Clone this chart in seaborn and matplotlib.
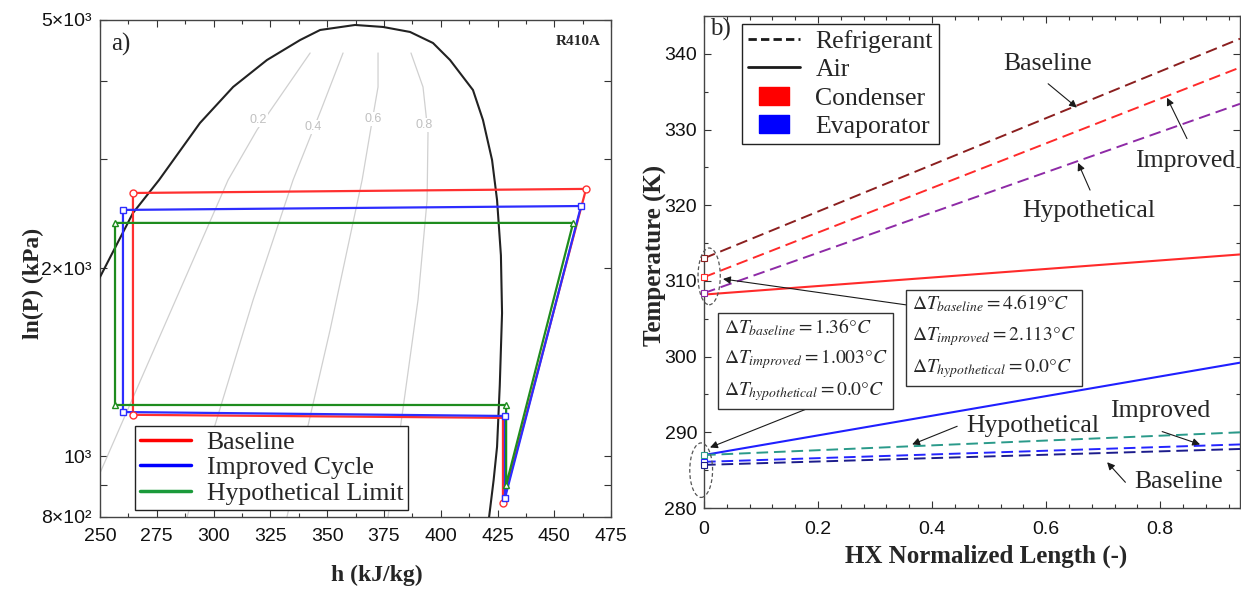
import numpy as np
import pandas as pd
import matplotlib
matplotlib.use("Agg")
import matplotlib.pyplot as plt
import seaborn as sns
from matplotlib.lines import Line2D
from matplotlib.patches import Ellipse
from matplotlib.ticker import FixedLocator, NullFormatter, MultipleLocator

# ---------------- data: panel a (P-h diagram) ----------------
h_dome = [240.0, 250.0, 264.5, 276.0, 294.0, 308.6, 323.5, 338.1, 346.9, 362.3, 374.6, 386.5,
          396.6, 404.1, 414.2, 418.6, 422.6, 424.8, 426.5, 427.0, 426.0, 424.8, 423.3, 421.3]
P_dome = [1650, 1938, 2454, 2772, 3420, 3906, 4314, 4644, 4819, 4909, 4873, 4784,
          4593, 4314, 3862, 3458, 2984, 2575, 2100, 1697, 1300, 1036, 917, 800]

quality_labels = ["0.2", "0.4", "0.6", "0.8"]
q_h = [[342.5, 319.1, 306.4, 285.3, 250.0, 241.5],
       [357.0, 347.3, 335.0, 317.4, 288.3],
       [372.4, 372.4, 368.9, 365.4, 351.3, 332.3],
       [386.9, 392.2, 394.4, 394.0, 390.0, 376.8]]
q_P = [[4427, 3333, 2772, 1850, 941, 800],
       [4427, 3588, 2772, 1781, 800],
       [4427, 3906, 3297, 2772, 1595, 800],
       [4427, 3906, 3297, 2575, 1781, 800]]
q_label_h = [319.6, 343.8, 370.2, 392.7]
q_label_P = [3459, 3370, 3471, 3395]

cycle_names = ["Baseline", "Improved Cycle", "Hypothetical Limit"]
baseline_h = [264.5, 264.5, 427.4, 427.4, 464.0, 264.5]
baseline_P = [2642, 1166, 1153, 843, 2682, 2642]
improved_h = [260.1, 260.1, 428.3, 428.3, 461.8, 260.1]
improved_P = [2482, 1178, 1161, 858, 2518, 2482]
hypo_h = [256.6, 256.6, 428.8, 428.8, 458.3, 256.6]
hypo_P = [2366, 1209, 1209, 900, 2366, 2366]

h_ticks = [250, 275, 300, 325, 350, 375, 400, 425, 450, 475]
P_ticks = [800, 1000, 2000, 5000]
P_tick_labels = ["8×10²", "10³", "2×10³", "5×10³"]
P_minor = [900, 3000, 4000]

# ---------------- data: panel b (temperature profiles) ----------------
hx_length = [0.0, 0.94]
cond_ref_baseline = [313.0, 342.0]
cond_ref_improved = [310.5, 338.2]
cond_ref_hypo = [308.4, 333.4]
cond_air = [308.2, 313.5]
evap_air = [287.0, 299.2]
evap_ref_hypo = [287.0, 290.0]
evap_ref_improved = [286.1, 288.4]
evap_ref_baseline = [285.7, 287.8]

box_cond = [r"$\Delta T_{baseline} = 4.619°C$",
            r"$\Delta T_{improved} = 2.113°C$",
            r"$\Delta T_{hypothetical} = 0.0°C$"]
box_evap = [r"$\Delta T_{baseline} = 1.36°C$",
            r"$\Delta T_{improved} = 1.003°C$",
            r"$\Delta T_{hypothetical} = 0.0°C$"]

# ---------------- style ----------------
sns.set_theme(style="ticks")
plt.rcParams["font.family"] = ["Liberation Serif", "DejaVu Serif"]
plt.rcParams["mathtext.fontset"] = "stix"

SANS = "Liberation Sans"
SERIF = "Liberation Serif"
TICK_FS = 14

fig = plt.figure(figsize=(12.41, 5.93), dpi=100)
axL = fig.add_axes([0.0806, 0.1282, 0.4118, 0.8381])
axR = fig.add_axes([0.5673, 0.1433, 0.4319, 0.8297])

# ================= panel a =================
for qh, qp in zip(q_h, q_P):
    sns.lineplot(x=qh, y=qp, sort=False, estimator=None, ax=axL,
                 color="#d0d0d0", lw=0.9, zorder=1)
for lab, lh, lp in zip(quality_labels, q_label_h, q_label_P):
    axL.text(lh, lp, lab, family=SANS, fontsize=9, color="#c0c0c0",
             ha="center", va="center", zorder=2,
             bbox=dict(fc="white", ec="none", pad=0.5))

sns.lineplot(x=h_dome, y=P_dome, sort=False, estimator=None, ax=axL,
             color="#222222", lw=1.5, zorder=3)

cyc_colors = ["#ff3030", "#2d2dff", "#1e8c1e"]
cyc_markers = ["o", "s", "^"]
cyc_marks = [[0, 1, 3, 4], [0, 1, 2, 3, 4], [0, 1, 2, 3, 4]]
for hh, pp, c, m, mk in zip([baseline_h, improved_h, hypo_h],
                            [baseline_P, improved_P, hypo_P],
                            cyc_colors, cyc_markers, cyc_marks):
    sns.lineplot(x=hh, y=pp, sort=False, estimator=None, ax=axL,
                 color=c, lw=1.6, zorder=4)
    axL.plot([hh[i] for i in mk], [pp[i] for i in mk], ls="none", marker=m,
             ms=5, mfc="white", mec=c, mew=1.0, zorder=5)

axL.set_yscale("log")
axL.set_xlim(250, 475)
axL.set_ylim(800, 5000)
axL.xaxis.set_major_locator(FixedLocator(h_ticks))
axL.xaxis.set_minor_locator(MultipleLocator(12.5))
axL.yaxis.set_major_locator(FixedLocator(P_ticks))
axL.yaxis.set_minor_locator(FixedLocator(P_minor))
axL.yaxis.set_minor_formatter(NullFormatter())
axL.set_xticklabels([str(t) for t in h_ticks])
axL.set_yticklabels(P_tick_labels)
axL.tick_params(which="both", direction="in", top=True, right=True,
                length=5, width=0.8, color="#333333", labelsize=TICK_FS, labelcolor="#111111")
axL.tick_params(axis="x", which="minor", length=3)
axL.tick_params(axis="x", pad=8)
axL.tick_params(axis="y", pad=6)
for lbl in axL.get_xticklabels() + axL.get_yticklabels():
    lbl.set_family(SANS)

axL.set_xlabel("h (kJ/kg)", family=SERIF, weight="bold", fontsize=17)
axL.set_ylabel("ln(P) (kPa)", family=SERIF, weight="bold", fontsize=17)
axL.xaxis.set_label_coords(0.542, -0.097)
axL.yaxis.set_label_coords(-0.11, 0.47)

axL.text(0.022, 0.95, "a)", transform=axL.transAxes, fontsize=18, family=SERIF,
         ha="left", va="center")
axL.text(0.98, 0.956, "R410A", transform=axL.transAxes, fontsize=11, family=SERIF,
         weight="bold", ha="right", va="center")

legL = axL.legend(handles=[Line2D([0], [0], color=c, lw=2.5) for c in ["#ff0000", "#0000ff", "#1a9a3a"]],
                  labels=cycle_names, loc="lower left", bbox_to_anchor=(0.068, 0.014),
                  borderaxespad=0, fancybox=False, edgecolor="#222222", framealpha=1,
                  prop=dict(family=SERIF, size=18.5), handlelength=2.0, labelspacing=0.1,
                  borderpad=0.2, handletextpad=0.6)
legL.get_frame().set_linewidth(1.0)

# ================= panel b =================
dash = (6, 3)
cond_sets = [(cond_ref_baseline, "#8b1f1f"), (cond_ref_improved, "#ff2a2a"),
             (cond_ref_hypo, "#8e2aa6")]
for vals, c in cond_sets:
    sns.lineplot(x=hx_length, y=vals, ax=axR, color=c, lw=1.4,
                 estimator=None, zorder=3).lines[-1].set_dashes(dash)
sns.lineplot(x=hx_length, y=cond_air, ax=axR, color="#ff2a2a", lw=1.5, estimator=None, zorder=3)
sns.lineplot(x=hx_length, y=evap_air, ax=axR, color="#1f1fff", lw=1.5, estimator=None, zorder=3)
evap_sets = [(evap_ref_hypo, "#2a9a8a"), (evap_ref_improved, "#2424ff"),
             (evap_ref_baseline, "#1c1c8c")]
for vals, c in evap_sets:
    sns.lineplot(x=hx_length, y=vals, ax=axR, color=c, lw=1.4,
                 estimator=None, zorder=3).lines[-1].set_dashes(dash)

for vals, c in cond_sets + evap_sets:
    axR.plot([hx_length[0]], [vals[0]], ls="none", marker="s", ms=4, mfc="white",
             mec=c, mew=0.8, zorder=4, clip_on=False)

axR.set_xlim(0, 0.94)
axR.set_ylim(280, 345)
axR.xaxis.set_major_locator(MultipleLocator(0.2))
axR.xaxis.set_minor_locator(MultipleLocator(0.04))
axR.yaxis.set_major_locator(MultipleLocator(10))
axR.yaxis.set_minor_locator(MultipleLocator(5))
axR.set_xticks([0, 0.2, 0.4, 0.6, 0.8])
axR.set_xticklabels(["0", "0.2", "0.4", "0.6", "0.8"])
axR.tick_params(which="both", direction="in", top=True, right=True,
                length=5, width=0.8, color="#333333", labelsize=TICK_FS, labelcolor="#111111")
axR.tick_params(which="minor", length=3)
axR.tick_params(axis="x", pad=9)
axR.tick_params(axis="y", pad=5)
for lbl in axR.get_xticklabels() + axR.get_yticklabels():
    lbl.set_family(SANS)

axR.set_xlabel("HX Normalized Length (-)", family=SERIF, weight="bold", fontsize=18)
axR.set_ylabel("Temperature (K)", family=SERIF, weight="bold", fontsize=18)
axR.xaxis.set_label_coords(0.526, -0.075)
axR.yaxis.set_label_coords(-0.069, 0.514)

axR.text(0.011, 0.972, "b)", transform=axR.transAxes, fontsize=18, family=SERIF,
         ha="left", va="center")

rect = [(-1, -0.59), (1, -0.59), (1, 0.59), (-1, 0.59), (-1, -0.59)]
legR = axR.legend(handles=[Line2D([0], [0], color="k", lw=2, ls=(0, (3, 1.5))),
                           Line2D([0], [0], color="k", lw=2),
                           Line2D([0], [0], ls="none", marker=rect, ms=21, mfc="#ff0000", mec="#ff0000"),
                           Line2D([0], [0], ls="none", marker=rect, ms=21, mfc="#0000ff", mec="#0000ff")],
                  labels=["Refrigerant", "Air", "Condenser", "Evaporator"],
                  loc="upper left", bbox_to_anchor=(0.071, 0.984), borderaxespad=0,
                  fancybox=False, edgecolor="#222222", framealpha=1,
                  prop=dict(family=SERIF, size=18.5), handlelength=2.0, labelspacing=0.2,
                  borderpad=0.25, handletextpad=0.6)
legR.get_frame().set_linewidth(1.0)

# ellipses
for (cx, cy, w, hgt) in [(0.009, 310.6, 0.039, 7.5), (-0.005, 285.0, 0.040, 7.2)]:
    axR.add_patch(Ellipse((cx, cy), w, hgt, fill=False, ec="#555555", lw=0.9,
                          ls=(0, (3, 2)), clip_on=False, zorder=5))

ap = dict(arrowstyle="-|>", color="k", lw=0.8, mutation_scale=11, shrinkA=0, shrinkB=0)
txt = dict(family=SERIF, fontsize=18.5, ha="center", va="center")
axR.annotate("", xy=(0.654, 332.9), xytext=(0.6035, 336.05), arrowprops=ap)
axR.text(0.602, 338.6, "Baseline", **txt)
axR.annotate("", xy=(0.812, 334.2), xytext=(0.847, 328.8), arrowprops=ap)
axR.text(0.844, 325.9, "Improved", **txt)
axR.annotate("", xy=(0.656, 325.6), xytext=(0.677, 322.0), arrowprops=ap)
axR.text(0.674, 319.3, "Hypothetical", **txt)
axR.annotate("", xy=(0.870, 288.4), xytext=(0.8035, 290.1), arrowprops=ap)
axR.text(0.80, 292.8, "Improved", **txt)
axR.annotate("", xy=(0.365, 288.4), xytext=(0.444, 290.8), arrowprops=ap)
axR.text(0.577, 290.8, "Hypothetical", **txt)
axR.annotate("", xy=(0.707, 286.05), xytext=(0.739, 283.4), arrowprops=ap)
axR.text(0.832, 283.4, "Baseline", **txt)

axR.annotate("", xy=(0.0333, 310.26), xytext=(0.358, 306.8), arrowprops=ap, zorder=6)
axR.annotate("", xy=(0.0105, 288.0), xytext=(0.177, 293.0), arrowprops=ap, zorder=6)

bb = dict(boxstyle="square,pad=0.3", fc="white", ec="#333333", lw=1.0)
axR.text(0.365, 302.7, "\n".join(box_cond), fontsize=14, ha="left", va="center",
         linespacing=1.6, bbox=bb, zorder=7)
axR.text(0.035, 299.6, "\n".join(box_evap), fontsize=14, ha="left", va="center",
         linespacing=1.6, bbox=bb, zorder=7)

for ax in (axL, axR):
    for s in ax.spines.values():
        s.set_color("#444444")
        s.set_linewidth(1.0)

fig.savefig("out.png", dpi=100)
